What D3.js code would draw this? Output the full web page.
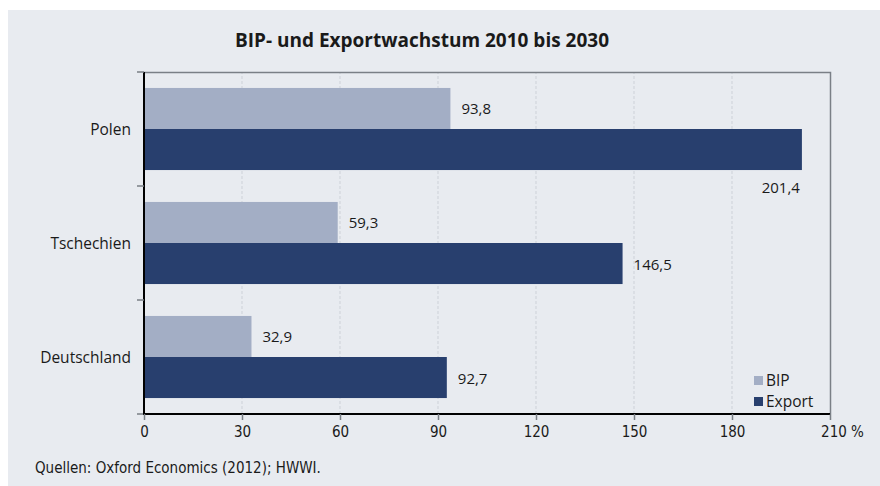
<!DOCTYPE html>
<html>
<head>
<meta charset="utf-8">
<script src="https://cdn.jsdelivr.net/npm/d3@7"></script>
<style>
  body { margin: 0; background: #fff; }
  svg text { fill: #1a1a1a; }
</style>
</head>
<body>
<div id="chart"></div>
<script>
const canvas = { w: 880, h: 486 };

const countries = ["Polen", "Tschechien", "Deutschland"];
const series = ["BIP", "Export"];
const bipValues = [93.8, 59.3, 32.9];
const exportValues = [201.4, 146.5, 92.7];
const xTicks = [0, 30, 60, 90, 120, 150, 180, 210];
const colors = { BIP: "#a3aec5", Export: "#283f6e" };

const margin = { top: 72, left: 144, right: 50, bottom: 72 };

const rows = countries.map((c, i) => ({ country: c, BIP: bipValues[i], Export: exportValues[i] }));

const svg = d3.select("#chart")
  .append("svg")
  .attr("width", canvas.w)
  .attr("height", canvas.h);

// panel background
svg.append("rect")
  .attr("x", 8).attr("y", 10)
  .attr("width", canvas.w - 8).attr("height", canvas.h - 10)
  .attr("fill", "#e8ebf0");

const x = d3.scaleLinear().domain([0, 210]).range([margin.left, 830]);
const y = d3.scaleBand().domain(countries).range([margin.top, 414]).paddingInner(0.28).paddingOuter(0.14);
const ySub = d3.scaleBand().domain(series).range([0, y.bandwidth()]);

// title
svg.append("text")
  .attr("x", 422).attr("y", 47)
  .attr("text-anchor", "middle")
  .attr("font-family", "Open Sans, sans-serif")
  .attr("font-weight", "bold")
  .attr("font-size", 19)
  .text("BIP- und Exportwachstum 2010 bis 2030");

// grid lines
svg.append("g")
  .selectAll("line")
  .data(xTicks.slice(1, -1))
  .enter()
  .append("line")
  .attr("x1", d => x(d)).attr("x2", d => x(d))
  .attr("y1", 414).attr("y2", 72)
  .attr("stroke", "#cdd1d8")
  .attr("stroke-dasharray", "3,2")
  .attr("stroke-width", 1);

// frame top/right
svg.append("path")
  .attr("d", `M${x(0)},72.5H${x(210) + 0.5}V414`)
  .attr("fill", "none")
  .attr("stroke", "#7a7f86")
  .attr("stroke-width", 1.5);

// bars
const groups = svg.append("g")
  .selectAll("g")
  .data(rows)
  .enter()
  .append("g")
  .attr("transform", d => `translate(0,${y(d.country)})`);

groups.selectAll("rect")
  .data(d => series.map(s => ({ key: s, value: d[s], country: d.country })))
  .enter()
  .append("rect")
  .attr("x", x(0) + 1)
  .attr("y", d => ySub(d.key))
  .attr("width", d => x(d.value) - x(0) - 1)
  .attr("height", ySub.bandwidth())
  .attr("fill", d => colors[d.key]);

const fmt = v => d3.format(".1f")(v).replace(".", ",");

groups.selectAll("text.val")
  .data(d => series.map(s => ({ key: s, value: d[s], country: d.country })))
  .enter()
  .append("text")
  .attr("class", "val")
  .attr("font-family", "Open Sans, sans-serif")
  .attr("font-size", 15)
  .attr("dominant-baseline", "central")
  .attr("x", d => d.value > 200 ? x(d.value) - 2 : x(d.value) + 11)
  .attr("y", d => d.value > 200 ? ySub(d.key) + ySub.bandwidth() + 17 : ySub(d.key) + ySub.bandwidth() / 2)
  .attr("text-anchor", d => d.value > 200 ? "end" : "start")
  .text(d => fmt(d.value));

// y axis
const yAxis = svg.append("g")
  .attr("transform", `translate(${x(0)},0)`);
yAxis.append("line")
  .attr("x1", 0).attr("x2", 0)
  .attr("y1", 72).attr("y2", 414)
  .attr("stroke", "#000").attr("stroke-width", 2);
const bounds = countries.map(c => y(c) - y.step() * y.paddingInner() / 2).concat([414]);
bounds[0] = 72;
yAxis.selectAll("line.tk")
  .data(bounds)
  .enter()
  .append("line")
  .attr("class", "tk")
  .attr("x1", -7).attr("x2", 0)
  .attr("y1", d => d).attr("y2", d => d)
  .attr("stroke", "#7a7f86").attr("stroke-width", 1.5);
yAxis.selectAll("text")
  .data(countries)
  .enter()
  .append("text")
  .attr("x", -13)
  .attr("y", d => y(d) + y.bandwidth() / 2)
  .attr("dominant-baseline", "central")
  .attr("text-anchor", "end")
  .attr("font-family", "Open Sans, sans-serif")
  .attr("font-size", 15.5)
  .text(d => d);

// x axis
const xAxis = svg.append("g")
  .attr("transform", "translate(0,414)")
  .call(d3.axisBottom(x).tickValues(xTicks).tickSize(6).tickFormat(d => d === 210 ? "210 %" : d));
xAxis.select(".domain").attr("stroke", "#000").attr("stroke-width", 2).attr("d", `M${x(0) - 1},0H${x(210)}`);
xAxis.selectAll(".tick line").attr("stroke", "#7a7f86").attr("stroke-width", 1.5);
xAxis.selectAll(".tick text")
  .attr("font-family", "Liberation Sans Narrow, DejaVu Sans Condensed, sans-serif")
  .attr("font-size", 15)
  .attr("dy", "0.9em")
  .attr("fill", "#1a1a1a")
  .attr("dx", d => d === 210 ? "0.8em" : 0);

// legend
const legend = svg.append("g")
  .selectAll("g")
  .data(series)
  .enter()
  .append("g")
  .attr("transform", (d, i) => `translate(754,${380 + i * 21})`);
legend.append("rect")
  .attr("x", 0).attr("y", -4)
  .attr("width", 9).attr("height", 9)
  .attr("fill", d => colors[d]);
legend.append("text")
  .attr("x", 12).attr("y", 0)
  .attr("dominant-baseline", "central")
  .attr("font-family", "Open Sans, sans-serif")
  .attr("font-size", 15.5)
  .text(d => d);

// source
svg.append("text")
  .attr("x", 35).attr("y", 473)
  .attr("font-family", "Liberation Sans Narrow, DejaVu Sans Condensed, sans-serif")
  .attr("font-size", 15)
  .text("Quellen: Oxford Economics (2012); HWWI.");
</script>
</body>
</html>
